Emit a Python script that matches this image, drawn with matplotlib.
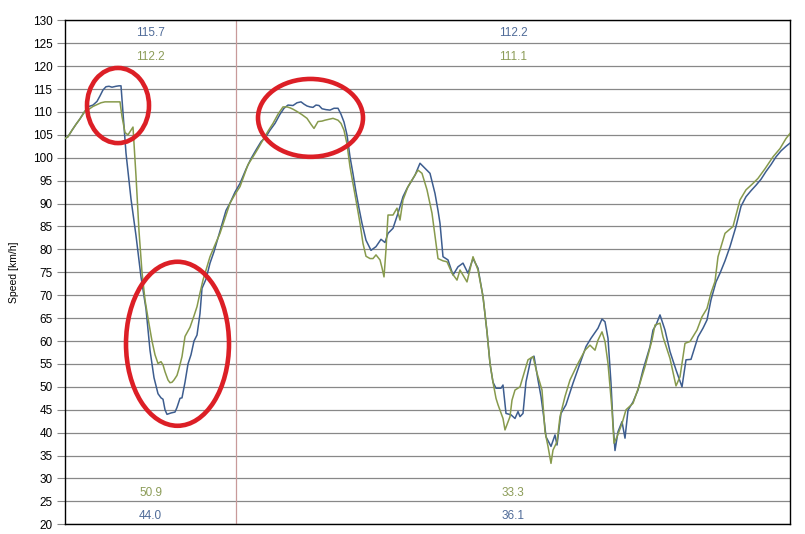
import matplotlib
matplotlib.use("Agg")
import matplotlib.pyplot as plt
from matplotlib.patches import Ellipse

plt.rcParams['font.family'] = ['Liberation Sans', 'DejaVu Sans']

# distance along the lap (arbitrary units) and speed [km/h], blue run
dist_a = [0, 3, 7, 11, 15, 20, 24, 28, 32, 35,
          38, 41, 44, 47, 51, 54, 56, 61, 66, 71,
          76, 81, 85, 89, 93, 96, 98, 100, 102, 106,
          110, 112, 115, 117, 120, 123, 126, 129, 132, 135,
          137, 141, 145, 149, 153, 157, 161, 165, 170, 175,
          181, 186, 191, 196, 201, 205, 210, 215, 219, 223,
          228, 232, 236, 239, 242, 245, 248, 251, 254, 257,
          261, 265, 269, 273, 276, 279, 282, 285, 288, 291,
          294, 297, 301, 306, 311, 316, 320, 323, 328, 333,
          338, 342, 345, 350, 355, 360, 365, 370, 373, 375,
          378, 383, 388, 393, 398, 403, 408, 413, 418, 422,
          425, 428, 431, 436, 438, 441, 446, 450, 453, 455,
          458, 461, 466, 469, 473, 476, 479, 481, 486, 490,
          492, 496, 501, 508, 515, 521, 526, 533, 537, 540,
          543, 546, 548, 550, 553, 557, 560, 563, 568, 573,
          578, 585, 588, 591, 595, 600, 605, 611, 617, 621,
          626, 633, 638, 642, 646, 651, 655, 660, 665, 671,
          676, 681, 686, 691, 696, 701, 706, 711, 716, 721,
          725]
speed_a = [104.2, 104.6, 106.0, 107.3, 108.5, 110.2, 111.2, 111.5, 112.3, 113.5,
           114.8, 115.5, 115.6, 115.4, 115.6, 115.7, 115.7, 101.0, 91.0, 83.0,
           74.0, 67.0, 58.0, 52.0, 48.5, 47.6, 47.3, 45.0, 44.0, 44.3,
           44.5, 45.5, 47.5, 47.6, 51.0, 55.0, 57.0, 60.0, 61.3, 66.0,
           71.5, 73.5, 77.0, 79.5, 82.5, 85.5, 88.5, 90.1, 92.5, 94.4,
           97.5, 99.8, 101.7, 103.5, 104.6, 106.0, 107.5, 109.5, 110.8, 111.5,
           111.4, 112.0, 112.2, 111.7, 111.3, 111.1, 111.0, 111.5, 111.4, 110.7,
           110.5, 110.4, 110.8, 110.8, 109.5, 107.8, 105.0, 100.2, 96.5, 92.5,
           89.0, 85.7, 82.0, 79.8, 80.6, 82.2, 81.5, 83.5, 84.6, 87.9,
           91.5, 93.3, 94.4, 96.2, 98.8, 97.7, 96.6, 92.2, 88.5, 85.7,
           78.4, 77.7, 74.4, 76.2, 77.0, 74.8, 78.0, 75.9, 69.7, 62.0,
           55.1, 51.0, 49.7, 49.7, 50.4, 44.2, 43.9, 43.1, 44.6, 43.5,
           44.2, 51.1, 56.2, 56.7, 51.5, 47.9, 43.0, 39.1, 37.0, 39.5,
           37.3, 44.2, 46.1, 50.8, 55.1, 58.8, 60.6, 62.8, 64.8, 64.2,
           60.6, 50.8, 42.0, 36.1, 40.2, 42.4, 38.8, 44.9, 46.7, 49.3,
           53.7, 58.8, 62.4, 63.5, 65.7, 62.4, 57.7, 53.7, 50.0, 55.9,
           56.0, 60.9, 62.8, 64.6, 69.0, 72.9, 74.8, 77.5, 80.6, 85.0,
           89.4, 91.5, 92.8, 94.0, 95.3, 97.0, 98.5, 100.2, 101.5, 102.5,
           103.2]

# green run
dist_b = [0, 3, 7, 11, 15, 20, 24, 28, 32, 36,
          40, 45, 50, 55, 57, 60, 63, 66, 68, 71,
          74, 77, 80, 83, 87, 90, 93, 96, 98, 100,
          103, 105, 107, 109, 112, 114, 117, 120, 125, 129,
          132, 135, 138, 141, 145, 150, 155, 160, 165, 170,
          175, 178, 183, 188, 193, 198, 203, 208, 213, 218,
          222, 225, 228, 232, 237, 242, 246, 249, 253, 257,
          260, 264, 268, 273, 276, 279, 282, 285, 288, 292,
          295, 298, 301, 305, 308, 311, 315, 317, 319, 321,
          323, 328, 332, 335, 338, 343, 348, 353, 357, 362,
          367, 370, 373, 378, 382, 387, 392, 395, 399, 402,
          408, 413, 418, 422, 425, 428, 431, 433, 438, 440,
          445, 447, 450, 455, 460, 463, 468, 472, 477, 480,
          483, 486, 488, 492, 495, 500, 505, 512, 520, 525,
          530, 533, 537, 540, 543, 547, 549, 552, 557, 561,
          568, 575, 580, 587, 590, 595, 598, 605, 611, 615,
          620, 625, 632, 637, 642, 646, 650, 653, 660, 668,
          675, 681, 687, 693, 700, 708, 715, 721, 725]
speed_b = [104.2, 104.6, 106.0, 107.3, 108.5, 110.2, 110.6, 111.2, 111.6, 112.0,
           112.2, 112.2, 112.2, 112.2, 109.0, 105.5, 105.0, 106.0, 106.7, 96.0,
           84.0, 75.0, 69.0, 65.0, 60.0, 57.0, 55.1, 55.5, 54.8, 53.3,
           51.5, 50.9, 51.0, 51.5, 52.5, 54.0, 56.6, 61.0, 63.0, 65.5,
           67.5, 70.5, 73.3, 75.5, 78.4, 81.0, 83.5, 86.8, 90.1, 92.0,
           93.7, 95.5, 98.5, 100.2, 102.0, 103.9, 105.8, 107.5, 109.5, 111.1,
           111.1, 110.9, 110.6, 110.1, 109.4, 108.6, 107.3, 106.4, 107.9, 108.0,
           108.2, 108.4, 108.6, 108.2, 107.5, 106.0, 103.0, 98.0, 94.4, 89.5,
           85.7, 81.3, 78.5, 78.0, 78.0, 78.8, 77.7, 76.0, 74.0, 80.0,
           87.5, 87.5, 89.0, 86.4, 90.8, 93.7, 95.5, 97.3, 96.6, 93.0,
           87.9, 83.0, 78.0, 77.5, 77.3, 74.8, 73.3, 75.5, 74.0, 72.9,
           78.4, 75.5, 69.7, 62.0, 55.1, 51.0, 47.5, 46.1, 43.1, 40.6,
           43.5, 47.1, 49.3, 50.0, 53.7, 55.9, 56.6, 53.0, 49.3, 40.2,
           37.0, 33.3, 36.2, 38.0, 43.5, 47.9, 51.5, 54.7, 58.0, 59.1,
           58.0, 60.2, 62.0, 59.9, 55.1, 45.0, 37.7, 39.1, 42.0, 45.0,
           46.4, 50.8, 54.4, 60.2, 63.5, 63.9, 60.9, 56.2, 50.2, 52.2,
           59.5, 59.9, 62.4, 65.3, 67.1, 70.5, 73.0, 78.4, 83.5, 85.0,
           90.8, 93.0, 94.2, 95.5, 97.6, 100.2, 102.0, 104.2, 105.3]

split_at = 171
sections = [(0, 171), (171, 725)]
max_a = ["115.7", "112.2"]
max_b = ["112.2", "111.1"]
min_b = ["50.9", "33.3"]
min_a = ["44.0", "36.1"]

blue = '#3d5d8f'
green = '#879a4c'

fig = plt.figure(figsize=(8.05, 5.34), dpi=100)
ax = fig.add_axes([65/805, 1 - 524.3/534, 725/805, 504/534])

ax.plot(dist_a, speed_a, color=blue, lw=1.1, zorder=3)
ax.plot(dist_b, speed_b, color=green, lw=1.1, zorder=3)

ax.axvline(split_at, color='#c89a9a', lw=0.9, zorder=2)

# min / max labels per section
for i, (s0, s1) in enumerate(sections):
    xc = (s0 + s1) / 2.0
    ax.text(xc, 127.2, max_a[i], color='#4f6b98', fontsize=8.5, ha='center', va='center')
    ax.text(xc, 122.0, max_b[i], color='#8c9c58', fontsize=8.5, ha='center', va='center')
    ax.text(xc, 26.8, min_b[i], color='#8c9c58', fontsize=8.5, ha='center', va='center')
    ax.text(xc, 21.8, min_a[i], color='#4f6b98', fontsize=8.5, ha='center', va='center')

# hand drawn red circles
for (cx, cy, w, h) in [(53, 111.4, 62, 16.4), (112.5, 59.4, 103, 35.8), (245.5, 108.7, 105, 17.0)]:
    ax.add_patch(Ellipse((cx, cy), w, h, fill=False, edgecolor='#dc1f26', lw=3.3, zorder=5))

ax.set_xlim(0, 725)
ax.set_ylim(20, 130)
ax.set_yticks(list(range(20, 131, 5)))
ax.set_xticks([])
ax.yaxis.grid(True, color='#888888', lw=0.9)
ax.set_axisbelow(True)
ax.tick_params(axis='y', length=6, width=0.8, color='#888888', labelsize=8.5, pad=3)
for sp in ax.spines.values():
    sp.set_color('black')
    sp.set_linewidth(1.0)
ax.set_ylabel("Speed [km/h]", fontsize=7.5, labelpad=10)

fig.savefig("out.png", dpi=100)
